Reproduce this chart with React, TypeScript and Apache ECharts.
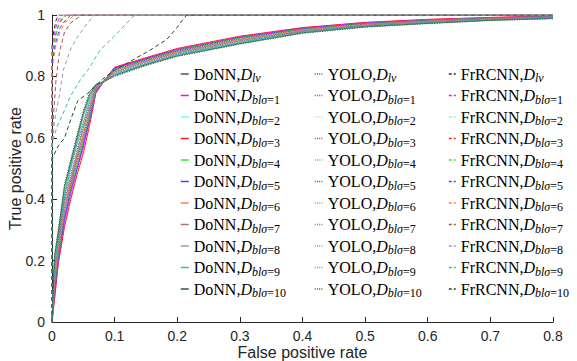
import React, { useEffect, useRef } from "react";
import * as echarts from "echarts";

const CONDITIONS = ["lv", "1", "2", "3", "4", "5", "6", "7", "8", "9", "10"];
const COLORS = ["#555555", "#ff00ff", "#66ffff", "#ff2020", "#33ee33", "#4444ff", "#ff7f50", "#b07070", "#8fa0b4", "#33bbbb", "#2e5e2e"];
const FR_COLORS = ["#333333", "#ff00ff", "#66ffff", "#ff2020", "#33ee33", "#4444ff", "#ff7f50", "#a05050", "#8fa0b4", "#33bbbb", "#1f4f1f"];

const X_TICKS = [0, 0.1, 0.2, 0.3, 0.4, 0.5, 0.6, 0.7, 0.8];
const Y_TICKS = [0, 0.2, 0.4, 0.6, 0.8, 1];

const FPR = [0, 0.004, 0.01, 0.02, 0.03, 0.04, 0.05, 0.06, 0.07, 0.085, 0.1, 0.15, 0.2, 0.3, 0.4, 0.5, 0.6, 0.7, 0.8];

const DONN_TPR = [
  [0, 0.14, 0.23, 0.37, 0.46, 0.54, 0.61, 0.69, 0.76, 0.79, 0.82, 0.85, 0.88, 0.92, 0.951, 0.969, 0.98, 0.988, 0.993],
  [0, 0.09, 0.2, 0.33, 0.42, 0.5, 0.57, 0.66, 0.75, 0.79, 0.828, 0.858, 0.888, 0.928, 0.957, 0.974, 0.984, 0.991, 0.996],
  [0, 0.12, 0.22, 0.36, 0.45, 0.52, 0.6, 0.68, 0.755, 0.79, 0.82, 0.852, 0.882, 0.922, 0.953, 0.97, 0.981, 0.989, 0.994],
  [0, 0.07, 0.19, 0.31, 0.4, 0.48, 0.55, 0.64, 0.745, 0.79, 0.83, 0.861, 0.891, 0.931, 0.959, 0.976, 0.986, 0.992, 0.997],
  [0, 0.11, 0.21, 0.34, 0.44, 0.51, 0.59, 0.67, 0.755, 0.789, 0.824, 0.855, 0.885, 0.926, 0.955, 0.972, 0.983, 0.99, 0.995],
  [0, 0.1, 0.2, 0.34, 0.43, 0.5, 0.58, 0.66, 0.75, 0.79, 0.826, 0.857, 0.886, 0.927, 0.956, 0.973, 0.983, 0.99, 0.995],
  [0, 0.13, 0.23, 0.37, 0.45, 0.53, 0.61, 0.685, 0.758, 0.79, 0.82, 0.851, 0.881, 0.921, 0.952, 0.97, 0.98, 0.988, 0.994],
  [0, 0.15, 0.25, 0.39, 0.47, 0.55, 0.63, 0.7, 0.762, 0.788, 0.815, 0.848, 0.877, 0.917, 0.949, 0.967, 0.979, 0.987, 0.992],
  [0, 0.19, 0.28, 0.42, 0.51, 0.59, 0.67, 0.73, 0.77, 0.786, 0.806, 0.84, 0.87, 0.91, 0.944, 0.963, 0.975, 0.984, 0.99],
  [0, 0.18, 0.27, 0.41, 0.5, 0.58, 0.65, 0.72, 0.768, 0.787, 0.809, 0.842, 0.872, 0.912, 0.946, 0.964, 0.976, 0.985, 0.991],
  [0, 0.21, 0.29, 0.44, 0.52, 0.6, 0.68, 0.74, 0.772, 0.785, 0.803, 0.838, 0.867, 0.907, 0.942, 0.962, 0.973, 0.983, 0.989],
];

const YOLO_TPR = [
  [0, 0.16, 0.26, 0.4, 0.48, 0.56, 0.64, 0.71, 0.765, 0.788, 0.812, 0.845, 0.875, 0.915, 0.947, 0.966, 0.977, 0.986, 0.992],
  [0, 0.08, 0.19, 0.32, 0.41, 0.49, 0.565, 0.655, 0.75, 0.79, 0.829, 0.86, 0.889, 0.929, 0.958, 0.975, 0.985, 0.992, 0.996],
  [0, 0.14, 0.24, 0.38, 0.47, 0.55, 0.62, 0.695, 0.76, 0.789, 0.817, 0.849, 0.878, 0.918, 0.95, 0.968, 0.979, 0.987, 0.993],
  [0, 0.12, 0.22, 0.35, 0.44, 0.52, 0.59, 0.675, 0.755, 0.79, 0.822, 0.854, 0.884, 0.924, 0.954, 0.971, 0.982, 0.989, 0.995],
  [0, 0.11, 0.21, 0.35, 0.43, 0.51, 0.585, 0.67, 0.752, 0.789, 0.825, 0.855, 0.886, 0.926, 0.955, 0.972, 0.983, 0.99, 0.995],
  [0, 0.12, 0.22, 0.36, 0.45, 0.53, 0.6, 0.68, 0.757, 0.79, 0.821, 0.853, 0.882, 0.923, 0.953, 0.97, 0.981, 0.989, 0.994],
  [0, 0.13, 0.24, 0.37, 0.46, 0.54, 0.615, 0.69, 0.76, 0.789, 0.818, 0.85, 0.879, 0.92, 0.951, 0.969, 0.98, 0.988, 0.993],
  [0, 0.16, 0.25, 0.39, 0.48, 0.56, 0.635, 0.705, 0.764, 0.788, 0.813, 0.846, 0.876, 0.916, 0.948, 0.967, 0.978, 0.987, 0.992],
  [0, 0.21, 0.3, 0.44, 0.53, 0.61, 0.685, 0.745, 0.774, 0.785, 0.801, 0.836, 0.866, 0.906, 0.941, 0.961, 0.972, 0.982, 0.988],
  [0, 0.2, 0.29, 0.43, 0.52, 0.6, 0.675, 0.735, 0.771, 0.786, 0.804, 0.839, 0.868, 0.909, 0.943, 0.962, 0.974, 0.983, 0.989],
  [0, 0.22, 0.3, 0.45, 0.53, 0.61, 0.69, 0.75, 0.775, 0.785, 0.8, 0.835, 0.865, 0.905, 0.94, 0.96, 0.972, 0.982, 0.988],
];

const FRRCNN_ROC = [
  [[0, 0], [0, 0.9], [0.003, 0.95], [0.006, 0.98], [0.01, 1], [0.8, 1]],
  [[0, 0], [0, 0.88], [0.004, 0.94], [0.008, 0.975], [0.012, 0.99], [0.016, 1], [0.8, 1]],
  [[0, 0], [0, 0.87], [0.004, 0.93], [0.01, 0.97], [0.014, 0.99], [0.02, 1], [0.8, 1]],
  [[0, 0], [0, 0.86], [0.005, 0.93], [0.01, 0.965], [0.016, 0.99], [0.022, 1], [0.8, 1]],
  [[0, 0], [0, 0.85], [0.005, 0.92], [0.009, 0.955], [0.013, 0.975], [0.02, 0.995], [0.025, 1], [0.8, 1]],
  [[0, 0], [0, 0.84], [0.006, 0.91], [0.012, 0.955], [0.018, 0.975], [0.025, 0.99], [0.03, 1], [0.8, 1]],
  [[0, 0], [0, 0.82], [0.006, 0.9], [0.012, 0.94], [0.02, 0.975], [0.03, 0.99], [0.036, 1], [0.8, 1]],
  [[0, 0], [0, 0.6], [0.004, 0.72], [0.006, 0.78], [0.012, 0.88], [0.02, 0.945], [0.03, 0.975], [0.041, 0.99], [0.048, 1], [0.8, 1]],
  [[0, 0], [0, 0.58], [0.006, 0.68], [0.012, 0.74], [0.018, 0.82], [0.03, 0.89], [0.041, 0.93], [0.057, 0.975], [0.068, 1], [0.8, 1]],
  [[0, 0], [0, 0.58], [0.008, 0.636], [0.02, 0.69], [0.029, 0.734], [0.045, 0.788], [0.057, 0.82], [0.077, 0.886], [0.104, 0.94], [0.12, 0.975], [0.132, 1], [0.8, 1]],
  [[0, 0], [0, 0.53], [0.009, 0.57], [0.02, 0.6], [0.03, 0.66], [0.041, 0.72], [0.057, 0.745], [0.08, 0.79], [0.1, 0.82], [0.126, 0.85], [0.157, 0.886], [0.183, 0.92], [0.199, 0.957], [0.207, 0.98], [0.215, 1], [0.8, 1]],
];

const MODELS = ["DoNN", "YOLO", "FrRCNN"];

const AXIS_COLOR = "#262626";
const SERIF = "'Liberation Serif', 'Times New Roman', serif";
const SANS = "'Liberation Sans', Arial, Helvetica, sans-serif";

function nameOf(model: string, cond: string) {
  return model + ",D_" + cond;
}

function fmtTick(v: number) {
  if (v === 0) return "0";
  if (v === 1) return "1";
  return v.toFixed(1);
}

export default function App() {
  const ref = useRef<HTMLDivElement>(null);
  useEffect(() => {
    if (!ref.current) return;
    const chart = echarts.init(ref.current, null, { renderer: "svg" });
    const series: any[] = [];
    CONDITIONS.forEach((c, k) => {
      series.push({
        name: nameOf("DoNN", c),
        type: "line",
        symbol: "none",
        z: 2,
        data: FPR.map((x, i) => [x, DONN_TPR[k][i]]),
        lineStyle: { color: COLORS[k], width: 1, type: "solid" },
        itemStyle: { color: COLORS[k] },
      });
    });
    CONDITIONS.forEach((c, k) => {
      series.push({
        name: nameOf("YOLO", c),
        type: "line",
        symbol: "none",
        z: 3,
        data: FPR.map((x, i) => [x, YOLO_TPR[k][i]]),
        lineStyle: { color: COLORS[k], width: 1, type: [1, 1.5] },
        itemStyle: { color: COLORS[k] },
      });
    });
    CONDITIONS.forEach((c, k) => {
      series.push({
        name: nameOf("FrRCNN", c),
        type: "line",
        symbol: "none",
        z: 4,
        data: FRRCNN_ROC[k],
        lineStyle: { color: FR_COLORS[k], width: 1, type: [4, 3] },
        itemStyle: { color: FR_COLORS[k] },
      });
    });

    const rich = {
      r: { fontFamily: SERIF, fontSize: 16, lineHeight: 20, color: "#000" },
      i: { fontFamily: SERIF, fontStyle: "italic", fontSize: 16, lineHeight: 20, color: "#000" },
      s: { fontFamily: SERIF, fontStyle: "italic", fontSize: 12, lineHeight: 12, padding: [8, 0, 0, 0], color: "#000" },
      u: { fontFamily: SERIF, fontSize: 12, lineHeight: 12, padding: [8, 0, 0, 0], color: "#000" },
    };
    const formatter = (name: string) => {
      const [model, rest] = name.split(",D_");
      if (rest === "lv") return `{r|${model},}{i|D}{s|lv}`;
      return `{r|${model},}{i|D}{s|blσ}{u|=${rest}}`;
    };
    const legendPos = [
      { left: 180, width: 8, type: "solid" },
      { left: 314, width: 8, type: [1, 1.2] },
      { left: 448, width: 7, type: [3, 2] },
    ];
    const legends = MODELS.map((m, j) => ({
      orient: "vertical",
      left: legendPos[j].left,
      top: 64,
      padding: 0,
      itemGap: 1.5,
      itemWidth: legendPos[j].width,
      itemHeight: 6,
      selectedMode: false,
      data: CONDITIONS.map((c) => nameOf(m, c)),
      formatter,
      itemStyle: { opacity: 0, borderWidth: 0 },
      lineStyle: { width: 1.5, type: legendPos[j].type },
      textStyle: { rich, color: "#000" },
    }));

    chart.setOption({
      animation: false,
      backgroundColor: "#fff",
      legend: legends,
      grid: { left: 52, right: 24, top: 15, bottom: 39, containLabel: false, outerBoundsMode: "none" },
      xAxis: {
        type: "value",
        min: 0,
        max: 0.8,
        interval: 0.1,
        name: "False positive rate",
        nameLocation: "middle",
        nameGap: 22,
        nameMoveOverlap: false,
        nameTextStyle: { fontFamily: SANS, fontSize: 16, color: AXIS_COLOR },
        axisLine: { onZero: false, lineStyle: { color: AXIS_COLOR, width: 1 } },
        axisTick: { inside: true, length: 5, lineStyle: { color: AXIS_COLOR } },
        axisLabel: { fontFamily: SANS, fontSize: 14, color: AXIS_COLOR, margin: 7, formatter: (v: number) => fmtTick(v) },
        splitLine: { show: false },
      },
      yAxis: {
        type: "value",
        min: 0,
        max: 1,
        interval: 0.2,
        name: "True positive rate",
        nameLocation: "middle",
        nameGap: 29,
        nameMoveOverlap: false,
        nameTextStyle: { fontFamily: SANS, fontSize: 16, color: AXIS_COLOR },
        axisLine: { show: true, onZero: false, lineStyle: { color: AXIS_COLOR, width: 1 } },
        axisTick: { show: true, inside: true, length: 5, lineStyle: { color: AXIS_COLOR } },
        axisLabel: { fontFamily: SANS, fontSize: 14, color: AXIS_COLOR, margin: 7, formatter: (v: number) => fmtTick(v) },
        splitLine: { show: false },
      },
      series,
    });
    return () => chart.dispose();
  }, []);
  return <div ref={ref} style={{ position: "absolute", left: 0, top: 0, width: 577, height: 361 }} />;
}
